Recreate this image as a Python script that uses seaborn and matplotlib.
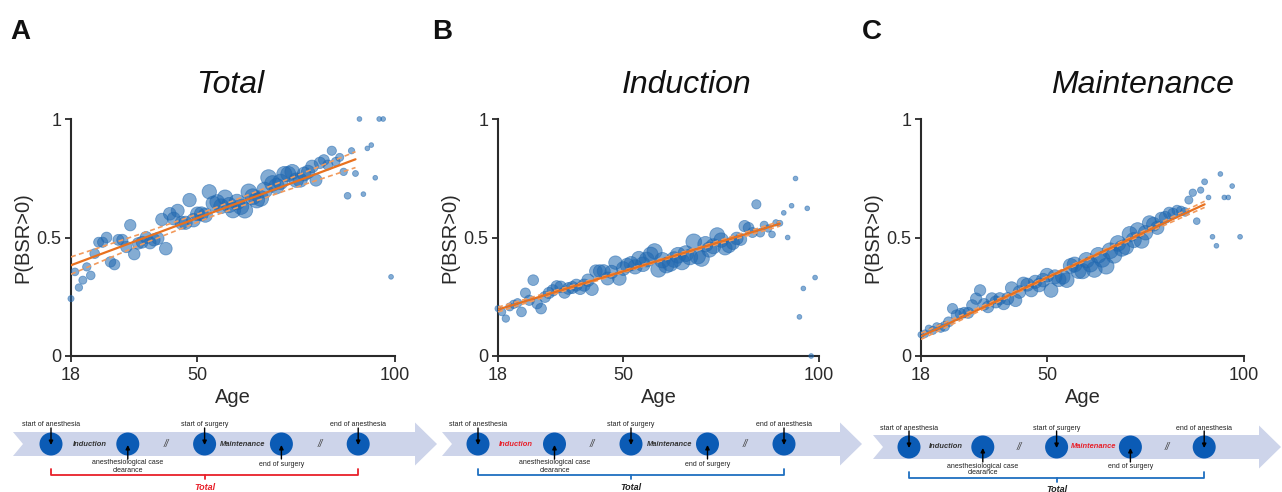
import numpy as np
import pandas as pd
import matplotlib
matplotlib.use("Agg")
import matplotlib.pyplot as plt
from matplotlib.patches import Polygon, Circle
import seaborn as sns

# ---------------- data ----------------
ages = list(range(18, 100))

n_patients = [75, 120, 110, 130, 140, 150, 190, 200, 210, 230,
              220, 230, 240, 250, 260, 260, 270, 270, 280, 290,
              290, 300, 300, 310, 320, 320, 330, 340, 340, 350,
              360, 370, 380, 390, 400, 410, 420, 430, 440, 450,
              460, 470, 480, 480, 490, 490, 500, 500, 500, 500,
              490, 490, 480, 470, 460, 450, 440, 420, 400, 380,
              350, 320, 290, 260, 230, 200, 170, 150, 130, 110,
              90, 80, 70, 45, 45, 45, 45, 45, 45, 45, 45, 45]

p_total = [0.242, 0.355, 0.289, 0.320, 0.376, 0.340, 0.432, 0.480, 0.480, 0.500,
           0.397, 0.386, 0.490, 0.490, 0.460, 0.552, 0.430, 0.475, 0.480, 0.500,
           0.477, 0.490, 0.496, 0.576, 0.453, 0.600, 0.580, 0.613, 0.562, 0.562,
           0.658, 0.573, 0.600, 0.600, 0.594, 0.693, 0.644, 0.650, 0.632, 0.669,
           0.637, 0.615, 0.650, 0.630, 0.615, 0.693, 0.672, 0.658, 0.665, 0.700,
           0.753, 0.728, 0.717, 0.735, 0.768, 0.768, 0.777, 0.742, 0.742, 0.768,
           0.777, 0.800, 0.742, 0.815, 0.827, 0.806, 0.866, 0.820, 0.838, 0.777,
           0.676, 0.866, 0.770, 1.000, 0.683, 0.876, 0.890, 0.752, 1.000, 1.000,
           None, 0.334]

p_induction = [0.200, 0.186, 0.158, 0.207, 0.218, 0.224, 0.186, 0.266, 0.235, 0.320,
               0.221, 0.200, 0.249, 0.266, 0.277, 0.294, 0.292, 0.268, 0.285, 0.289,
               0.299, 0.285, 0.299, 0.320, 0.282, 0.358, 0.358, 0.358, 0.327, 0.355,
               0.394, 0.327, 0.369, 0.383, 0.390, 0.376, 0.411, 0.387, 0.407, 0.428,
               0.442, 0.365, 0.404, 0.383, 0.390, 0.407, 0.425, 0.397, 0.432, 0.418,
               0.482, 0.421, 0.411, 0.472, 0.449, 0.463, 0.510, 0.489, 0.456, 0.465,
               0.477, 0.496, 0.492, 0.548, 0.541, 0.521, 0.640, 0.520, 0.552, 0.538,
               0.513, 0.562, 0.560, 0.604, 0.500, 0.634, 0.749, 0.165, 0.285, 0.623,
               0.000, 0.331]

p_maintenance = [0.090, 0.094, 0.115, 0.108, 0.123, 0.118, 0.125, 0.144, 0.200, 0.172,
                 0.179, 0.183, 0.182, 0.214, 0.242, 0.277, 0.218, 0.207, 0.242, 0.228,
                 0.242, 0.221, 0.242, 0.287, 0.235, 0.270, 0.306, 0.301, 0.277, 0.313,
                 0.299, 0.320, 0.341, 0.277, 0.334, 0.323, 0.334, 0.320, 0.380, 0.386,
                 0.359, 0.358, 0.404, 0.387, 0.365, 0.425, 0.408, 0.379, 0.444, 0.425,
                 0.475, 0.454, 0.461, 0.514, 0.489, 0.531, 0.486, 0.520, 0.562, 0.556,
                 0.541, 0.580, 0.585, 0.604, 0.601, 0.615, 0.613, 0.608, 0.658, 0.689,
                 0.569, 0.700, 0.735, 0.669, 0.503, 0.465, 0.768, 0.669, 0.669, 0.717,
                 None, 0.503]

fit_ages = [18, 36, 54, 72, 90]
fit_total = [0.383, 0.495, 0.607, 0.718, 0.830]
ci_hi_total = [0.418, 0.517, 0.622, 0.740, 0.862]
ci_lo_total = [0.345, 0.472, 0.591, 0.696, 0.795]
fit_induction = [0.196, 0.287, 0.377, 0.468, 0.558]
ci_hi_induction = [0.206, 0.293, 0.381, 0.474, 0.568]
ci_lo_induction = [0.186, 0.280, 0.373, 0.461, 0.548]
fit_maintenance = [0.083, 0.222, 0.362, 0.501, 0.640]
ci_hi_maintenance = [0.096, 0.229, 0.366, 0.508, 0.653]
ci_lo_maintenance = [0.070, 0.215, 0.357, 0.494, 0.627]

titles = ["Total", "Induction", "Maintenance"]
letters = ["A", "B", "C"]
x_ticks = [18, 50, 100]
y_ticks = [0, 0.5, 1]
y_ticklabels = ["0", "0.5", "1"]

# ---------------- style ----------------
sns.set_theme(style="ticks")
plt.rcParams["font.family"] = ["Liberation Sans", "DejaVu Sans"]

W, H = 1282, 492
fig = plt.figure(figsize=(W / 100, H / 100), dpi=100)

def px_axes(left, right, top, bottom):
    return fig.add_axes([left / W, 1 - bottom / H, (right - left) / W, (bottom - top) / H])

axes_boxes = [(71, 395, 119, 356), (498, 819, 119, 356), (921, 1244, 119, 356)]
title_x = [230, 687, 1142]
letter_x = [10, 432, 862]
series = [
    (p_total, fit_total, ci_hi_total, ci_lo_total),
    (p_induction, fit_induction, ci_hi_induction, ci_lo_induction),
    (p_maintenance, fit_maintenance, ci_hi_maintenance, ci_lo_maintenance),
]

dot_color = "#2068b0"
line_color = "#e8711f"
dash_color = "#f29a5c"
spine_color = "#2a2a2a"

for i, (vals, fit, hi, lo) in enumerate(series):
    ax = px_axes(*axes_boxes[i])
    df = pd.DataFrame({"age": ages, "n": n_patients, "p": vals}).dropna()
    sns.scatterplot(data=df, x="age", y="p", size="n", sizes=(0, 130), size_norm=(0, 500),
                    color=dot_color, alpha=0.55, edgecolor=dot_color, linewidth=0.6,
                    legend=False, ax=ax, clip_on=False, zorder=3)
    fdf = pd.DataFrame({"age": fit_ages, "fit": fit, "hi": hi, "lo": lo})
    ax.plot(fdf["age"], fdf["hi"], color=dash_color, lw=1.2, ls=(0, (3, 2)), zorder=4)
    ax.plot(fdf["age"], fdf["lo"], color=dash_color, lw=1.2, ls=(0, (3, 2)), zorder=4)
    ax.plot(fdf["age"], fdf["fit"], color=line_color, lw=1.6, zorder=5)

    ax.set_xlim(18, 100)
    ax.set_ylim(0, 1)
    ax.set_xticks(x_ticks)
    ax.set_xticklabels([str(t) for t in x_ticks])
    ax.set_yticks(y_ticks)
    ax.set_yticklabels(y_ticklabels)
    ax.tick_params(direction="out", length=4, width=1.3, colors=spine_color,
                   labelsize=13, pad=4)
    ax.tick_params(axis="y", pad=3)
    for s in ["top", "right"]:
        ax.spines[s].set_visible(False)
    for s in ["left", "bottom"]:
        ax.spines[s].set_color(spine_color)
        ax.spines[s].set_linewidth(1.5)
    ax.set_xlabel("Age", fontsize=14.5, color=spine_color, labelpad=3)
    ax.set_ylabel("P(BSR>0)", fontsize=14.5, color=spine_color, labelpad=3)
    ax.set_facecolor("none")

    fig.text(title_x[i] / W, 1 - 93 / H, titles[i], fontsize=23, style="italic",
             ha="center", va="baseline", color="#111111")
    fig.text(letter_x[i] / W, 1 - 39 / H, letters[i], fontsize=20, weight="bold",
             ha="left", va="baseline", color="#111111")

# ---------------- timeline diagrams ----------------
dax = fig.add_axes([0, 0, 1, 1], zorder=-1)
dax.set_xlim(0, W)
dax.set_ylim(H, 0)
dax.axis("off")

arrow_color = "#cdd4ea"
circ_color = "#0b5bb5"
red = "#e8202a"
blue = "#1f6fc0"
dark = "#222222"

diagrams = [
    dict(x0=13, x1=437, c0=51, dc=76.8, dy=0, hl=0, bracket=red, total=red),
    dict(x0=442, x1=862, c0=478, dc=76.5, dy=0, hl=1, bracket=blue, total=dark),
    dict(x0=873, x1=1281, c0=909, dc=73.8, dy=3, hl=2, bracket=blue, total=dark),
]

for d in diagrams:
    yc = 444 + d["dy"]
    x0, x1 = d["x0"], d["x1"]
    xb = x1 - 22
    poly = [(x0, yc - 12), (xb, yc - 12), (xb, yc - 21.5), (x1, yc), (xb, yc + 21.5),
            (xb, yc + 12), (x0, yc + 12), (x0 + 10, yc)]
    dax.add_patch(Polygon(poly, closed=True, facecolor=arrow_color, edgecolor="none"))
    cx = [d["c0"] + k * d["dc"] for k in range(5)]
    for c in cx:
        dax.add_patch(Circle((c, yc), 11.5, facecolor=circ_color, edgecolor="none"))
    # labels above
    for k, lab in [(0, "start of anesthesia"), (2, "start of surgery"), (4, "end of anesthesia")]:
        dax.text(cx[k], yc - 19, lab, fontsize=5, ha="center", va="center", color=dark)
        dax.annotate("", xy=(cx[k], yc + 1), xytext=(cx[k], yc - 16),
                     arrowprops=dict(arrowstyle="-|>", color="black", lw=1.0,
                                     mutation_scale=6, shrinkA=0, shrinkB=0))
    # labels below
    for k, lab, ty in [(1, "anesthesiological case\nclearance", yc + 22.5), (3, "end of surgery", yc + 20)]:
        dax.text(cx[k], ty, lab, fontsize=5, ha="center", va="center", color=dark,
                 linespacing=1.0)
        dax.annotate("", xy=(cx[k], yc + 1), xytext=(cx[k], yc + 15),
                     arrowprops=dict(arrowstyle="-|>", color="black", lw=1.0,
                                     mutation_scale=6, shrinkA=0, shrinkB=0))
    dax.text((cx[0] + cx[1]) / 2, yc, "Induction", fontsize=5.4, weight="bold", style="italic",
             ha="center", va="center", color=red if d["hl"] == 1 else "#333333")
    dax.text((cx[2] + cx[3]) / 2, yc, "Maintenance", fontsize=5.4, weight="bold", style="italic",
             ha="center", va="center", color=red if d["hl"] == 2 else "#333333")
    for k in (1, 3):
        dax.text((cx[k] + cx[k + 1]) / 2, yc, "//", fontsize=7, style="italic",
                 ha="center", va="center", color="#444444")
    # bracket
    by = yc + 31
    dax.plot([cx[0], cx[0], cx[4], cx[4]], [by - 6, by, by, by - 6], color=d["bracket"], lw=1.3,
             solid_joinstyle="round")
    mid = (cx[0] + cx[4]) / 2
    dax.plot([mid, mid], [by, by + 4], color=d["bracket"], lw=1.3)
    dax.text(mid, by + 12, "Total", fontsize=6.5, weight="bold", style="italic",
             ha="center", va="center", color=d["total"])

fig.savefig("out.png", dpi=100)
